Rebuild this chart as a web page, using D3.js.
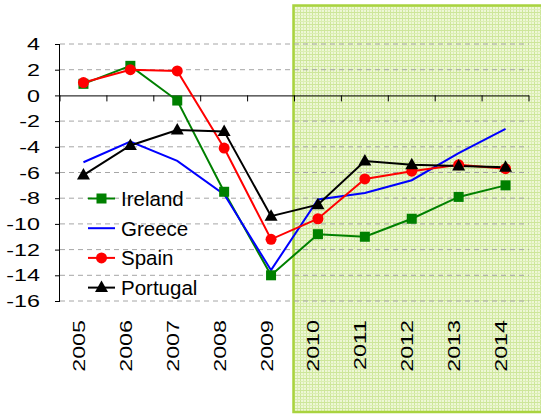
<!DOCTYPE html>
<html><head><meta charset="utf-8">
<script src="https://cdn.jsdelivr.net/npm/d3@7"></script>
<style>body{margin:0;background:#fff}svg{display:block}text{font-family:"Liberation Sans",Arial,sans-serif;fill:#000}</style>
</head><body><svg id="c" width="541" height="414"></svg>
<script>
const years = ["2005","2006","2007","2008","2009","2010","2011","2012","2013","2014"];
const ireland  = [0.9, 2.3, -0.4, -7.5, -14.0, -10.8, -11.0, -9.6, -7.9, -7.0];
const greece   = [-5.2, -3.6, -5.1, -7.7, -13.6, -8.1, -7.6, -6.6, -4.5, -2.6];
const spain    = [1.0, 2.0, 1.9, -4.1, -11.2, -9.6, -6.5, -5.9, -5.4, -5.7];
const portugal = [-6.2, -3.9, -2.7, -2.8, -9.4, -8.5, -5.1, -5.4, -5.5, -5.6];
const yTicks = [4, 2, 0, -2, -4, -6, -8, -10, -12, -14, -16];
const forecastStart = "2010";

const series = [
  {name:"Ireland", values:ireland, color:"#008000", marker:"square"},
  {name:"Greece", values:greece, color:"#0000ff", marker:"none"},
  {name:"Spain", values:spain, color:"#ff0000", marker:"circle"},
  {name:"Portugal", values:portugal, color:"#000000", marker:"triangle"}
];

const svg = d3.select("#c");
const L = 60, R = 529, T = 44, B = 301;
const x = d3.scaleBand().domain(years).range([L, R]);
const y = d3.scaleLinear().domain([-16, 4]).range([B, T]);
const cx = d => x(d) + x.bandwidth()/2;

// pattern for forecast region
const defs = svg.append("defs");
const pat = defs.append("pattern").attr("id","plaid").attr("patternUnits","userSpaceOnUse")
  .attr("width",6).attr("height",6);
pat.append("rect").attr("width",6).attr("height",6).attr("fill","#eef7d6");
pat.append("rect").attr("x",0).attr("width",1).attr("height",6).attr("fill","#cde69a");
pat.append("rect").attr("x",3).attr("width",1).attr("height",6).attr("fill","#dbeeb3");
pat.append("rect").attr("y",0).attr("width",6).attr("height",1).attr("fill","#cde69a");
pat.append("rect").attr("y",3).attr("width",6).attr("height",1).attr("fill","#dbeeb3");

const fx = x(forecastStart) - 1;
svg.append("rect").attr("x", fx).attr("y", 5.5).attr("width", 560 - fx).attr("height", 406.5)
  .attr("fill","url(#plaid)").attr("stroke","#a9d33f").attr("stroke-width",2.5);

// gridlines
svg.append("g").selectAll("line").data(yTicks.filter(v => v !== 0)).join("line")
  .attr("x1", L).attr("x2", R).attr("y1", d => y(d)).attr("y2", d => y(d))
  .attr("stroke","#a6a6a6").attr("stroke-width",1).attr("stroke-dasharray","5,4");

// y axis
const yAxis = svg.append("g").attr("transform",`translate(${L},0)`)
  .call(d3.axisLeft(y).tickValues(yTicks).tickSize(5).tickFormat(""));
yAxis.select(".domain").attr("stroke","#000").attr("d",`M-0.5,${T}V${B}`);
yAxis.selectAll(".tick line").attr("stroke","#000");
svg.append("g").selectAll("text").data(yTicks).join("text")
  .attr("transform", d => `translate(40,${y(d)}) scale(1.37,1)`)
  .attr("text-anchor","end").attr("dy","0.36em").attr("font-size",17)
  .text(d => d);

// x axis at zero
const xAxis = svg.append("g").attr("transform",`translate(0,${y(0)})`)
  .call(d3.axisBottom(x).tickSize(0).tickFormat(""));
xAxis.select(".domain").attr("stroke","#000").attr("d",`M${L},0.5H${R}`);
const bounds = years.map(d => x(d)).concat([R]);
svg.append("g").selectAll("line").data(bounds).join("line")
  .attr("x1", d => d).attr("x2", d => d).attr("y1", y(0)).attr("y2", y(0)+6)
  .attr("stroke","#000");
svg.append("g").selectAll("text").data(years).join("text")
  .attr("transform", d => `translate(${cx(d)+1.5},320) rotate(-90) scale(1.37,1)`)
  .attr("text-anchor","end").attr("font-size",17).text(d => d);

// markers
function drawMarker(g, type, color){
  if(type==="square") g.append("rect").attr("x",-5).attr("y",-5).attr("width",10).attr("height",10).attr("fill",color);
  else if(type==="circle") g.append("circle").attr("r",5.5).attr("fill",color);
  else if(type==="triangle") g.append("path").attr("d","M0,-7L6.5,4.5L-6.5,4.5Z").attr("fill",color);
}

const line = d3.line().x((d,i) => cx(years[i])).y(d => y(d));
series.forEach(s => {
  svg.append("path").datum(s.values).attr("d", line).attr("fill","none")
    .attr("stroke", s.color).attr("stroke-width",2);
});
series.forEach(s => {
  if(s.marker === "none") return;
  s.values.forEach((v,i) => {
    const g = svg.append("g").attr("transform",`translate(${cx(years[i])},${y(v)})`);
    drawMarker(g, s.marker, s.color);
  });
});

// legend
series.forEach((s,i) => {
  const ly = 198.5 + i*29.7;
  svg.append("line").attr("x1",88).attr("x2",115).attr("y1",ly).attr("y2",ly)
    .attr("stroke",s.color).attr("stroke-width",2);
  if(s.marker !== "none"){
    const g = svg.append("g").attr("transform",`translate(101.5,${ly})`);
    drawMarker(g, s.marker, s.color);
  }
  svg.append("text").attr("x",121).attr("y",ly).attr("dy","0.36em").attr("font-size",20.5).text(s.name);
});
</script></body></html>
